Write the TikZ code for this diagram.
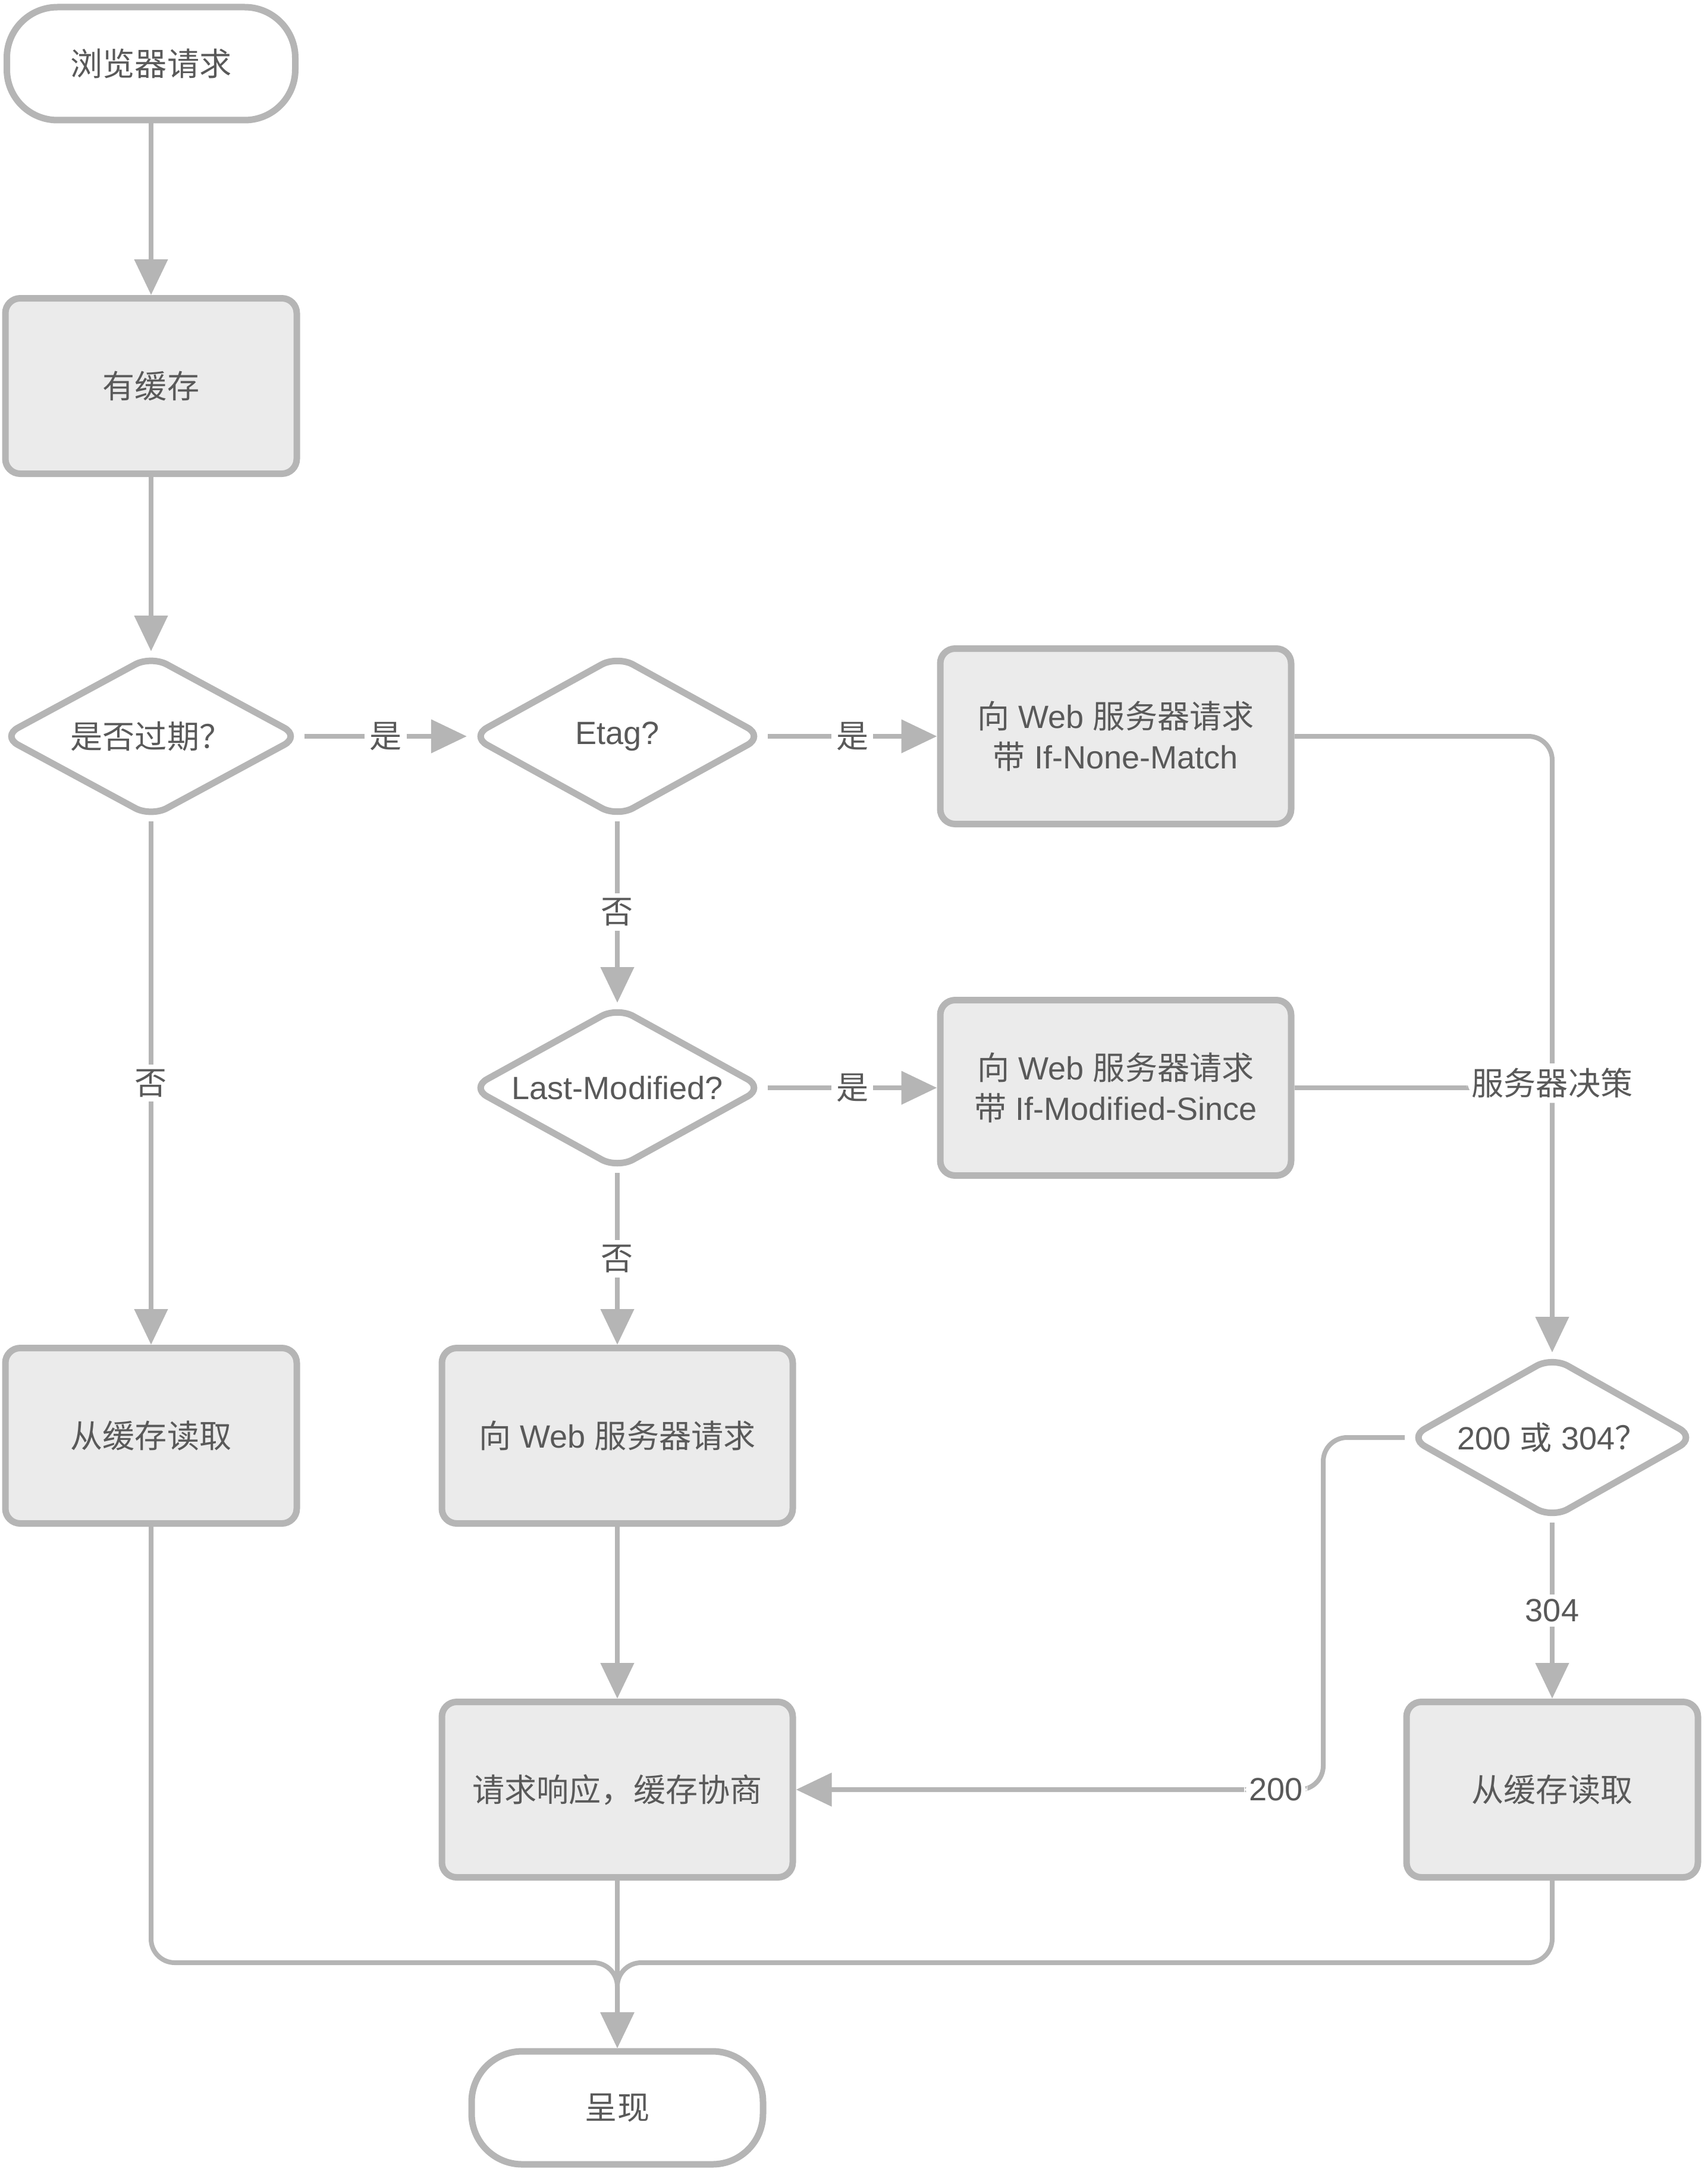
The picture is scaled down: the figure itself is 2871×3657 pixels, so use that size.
\documentclass[tikz,border=0pt]{standalone}
\usepackage{fontspec}
\setmainfont{Liberation Sans}
\newfontfamily\zh{Noto Sans CJK SC}
\usetikzlibrary{shapes.geometric,arrows.meta}
\definecolor{linegray}{HTML}{B5B5B5}
\definecolor{boxgray}{HTML}{EBEBEB}
\definecolor{inkgray}{HTML}{595959}

\begin{document}
\begin{tikzpicture}[x=0.1mm,y=-0.1mm]
		\tikzset{every node/.style={text=inkgray,font=\fontsize{15.4}{19.3}\selectfont},
			term/.style={shape=rectangle,draw=linegray,line width=1.1mm,rounded corners=8.5mm,fill=white,minimum width=48.5mm,minimum height=19mm},
			proc/.style={shape=rectangle,draw=linegray,line width=1.1mm,rounded corners=2.5mm,fill=boxgray,minimum height=29.5mm,align=center},
			test/.style={shape=diamond,draw=linegray,line width=1.1mm,rounded corners=3mm,fill=white,inner sep=0pt,aspect=1.75,minimum width=49.5mm,minimum height=27.5mm},
			flow/.style={draw=linegray,line width=0.8mm,-{Triangle[length=6mm,width=5.5mm]}},
			tag/.style={fill=white,inner sep=0.8mm}}
		\useasboundingbox (0,0) rectangle (2871,3657);
		% shapes
		\node (req) at (254,107) [term] {\zh 浏览器请求};
		\node (has) at (254,649) [proc,minimum width=49mm] {\zh 有缓存};
		\node (exp) at (254,1238) [test,minimum width=50.5mm] {\zh 是否过期？};
		\node (etag) at (1038,1238) [test] {Etag?};
		\node (inm) at (1876,1238) [proc,minimum width=59mm] {{\zh 向} Web {\zh 服务器请求}\\{\zh 带} If-None-Match};
		\node (lm) at (1038,1829) [test] {Last-Modified?};
		\node (ims) at (1876,1829) [proc,minimum width=59mm] {{\zh 向} Web {\zh 服务器请求}\\{\zh 带} If-Modified-Since};
		\node (readL) at (254,2414) [proc,minimum width=49mm] {\zh 从缓存读取};
		\node (web) at (1038,2414) [proc,minimum width=59mm] {{\zh 向} Web {\zh 服务器请求}};
		\node (code) at (2610,2417) [test,minimum width=48.5mm] {200 {\zh 或} 304{\zh ？}};
		\node (nego) at (1038,3009) [proc,minimum width=59mm] {\zh 请求响应，缓存协商};
		\node (readR) at (2610,3009) [proc,minimum width=49mm] {\zh 从缓存读取};
		\node (show) at (1038,3544) [term,minimum width=49mm] {\zh 呈现};
		\coordinate (turn) at (2610,1238);
		\coordinate (join) at (2610,1829);
		\coordinate (back) at (2225,2417);
		\coordinate (merge) at (1038,3300);
		% connectors
		\draw[flow] (req) -- (has);
		\draw[flow] (has) -- (exp);
		\draw[flow] (exp) -- node[tag]{\zh 是} (etag);
		\draw[flow] (etag) -- node[tag]{\zh 是} (inm);
		\draw[flow] (etag) -- node[tag]{\zh 否} (lm);
		\draw[flow] (lm) -- node[tag]{\zh 是} (ims);
		\draw[flow] (lm) -- node[tag]{\zh 否} (web);
		\draw[flow] (exp) -- node[tag]{\zh 否} (readL);
		\draw[flow] (web) -- (nego);
		\draw[flow,-] (ims.east) -- (join);
		\draw[flow,rounded corners=4mm] (inm.east) -- (turn) -- node[tag,pos=0.563]{\zh 服务器决策} (code.north);
		\draw[flow,rounded corners=4mm] (code.west) -- (back) |- node[tag,pos=0.545]{200} (nego.east);
		\draw[flow] (code) -- node[tag]{304} (readR);
		\draw[flow,rounded corners=4mm] (readL.south) |- (merge) -- (show.north);
		\draw[flow,rounded corners=4mm] (readR.south) |- (merge) -- (show.north);
		\draw[flow] (nego) -- (show);
	\end{tikzpicture}
\end{document}
